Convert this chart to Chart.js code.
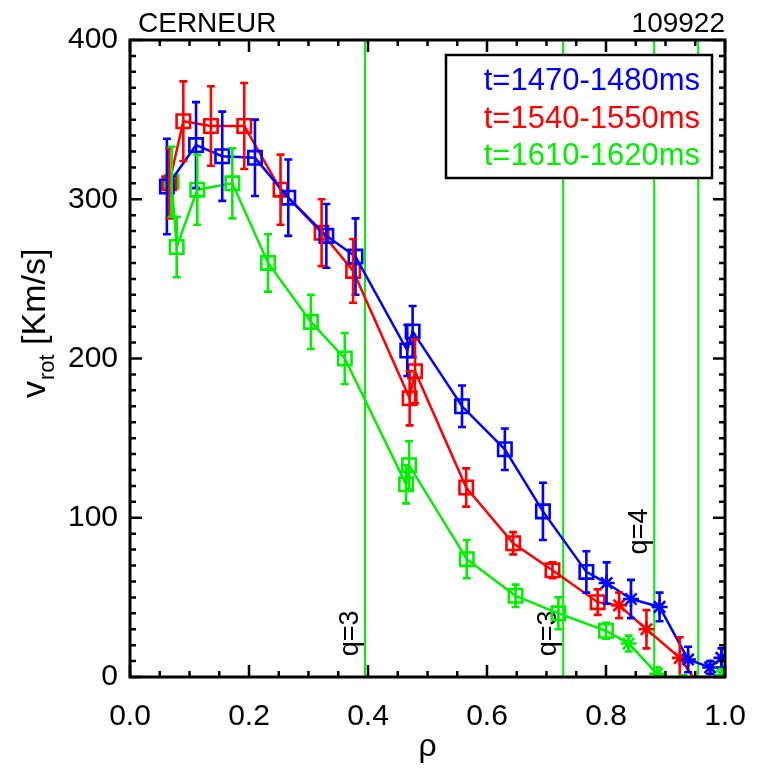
<!DOCTYPE html>
<html>
<head>
<meta charset="utf-8">
<script src="https://cdn.jsdelivr.net/npm/chart.js@4/dist/chart.umd.min.js"></script>
<style>
html,body{margin:0;padding:0;background:#fff;}
canvas{display:block;}
</style>
</head>
<body>
<canvas id="c" width="758" height="770"></canvas>
<script>
// ---- data ----
const seriesLabels = ['t=1470-1480ms', 't=1540-1550ms', 't=1610-1620ms'];
const seriesColors = ['#0000ff', '#ff0000', '#00f000'];

const blueRho = [0.062, 0.111, 0.155, 0.21, 0.266, 0.33, 0.379, 0.466, 0.475, 0.558, 0.63, 0.694, 0.767, 0.801, 0.842, 0.89, 0.938, 0.975, 0.994];
const blueV   = [308, 334, 327, 326, 301, 277, 264, 205, 217, 170, 143, 104, 66, 59, 49, 44, 11, 6, 12];
const blueErr = [30, 27, 28, 24, 24, 20, 24, 16, 16, 13, 13, 18, 13, 13, 12, 9, 8, 4, 6];
const blueStar = [0,0,0,0,0,0,0,0,0,0,0,0,0,1,1,1,1,1,1];

const redRho = [0.066, 0.0896, 0.136, 0.192, 0.253, 0.322, 0.375, 0.47, 0.479, 0.565, 0.644, 0.71, 0.786, 0.822, 0.868, 0.924, 0.965];
const redV   = [310, 349, 346, 346, 306, 279, 255, 175, 192, 119, 84, 67, 47, 45, 30, 12, -10];
const redErr = [22, 25, 25, 27, 22, 21, 20, 17, 20, 12, 7, 5, 8, 8, 12, 13, 10];
const redStar = [0,0,0,0,0,0,0,0,0,0,0,0,0,1,1,1,1];

const greenRho = [0.07, 0.0785, 0.113, 0.172, 0.232, 0.304, 0.361, 0.464, 0.469, 0.566, 0.648, 0.72, 0.80, 0.838, 0.886, 0.93, 0.995];
const greenV   = [311, 270, 306, 310, 260, 223, 200, 121, 133, 74, 51, 40, 29, 21, 2, -4, 1];
const greenErr = [22, 19, 22, 22, 18, 17, 16, 12, 15, 12, 7, 10, 5, 5, 4, 5, 4];
const greenStar = [0,0,0,0,0,0,0,0,0,0,0,0,0,1,1,1,1];

const qLinesRho = [0.395, 0.728, 0.881, 0.955];
const qLabels = [{rho:0.395, v:13, text:'q=3'}, {rho:0.728, v:13, text:'q=3'}, {rho:0.881, v:77, text:'q=4'}];

const xTicks = [0.0, 0.2, 0.4, 0.6, 0.8, 1.0];
const yTicks = [0, 100, 200, 300, 400];

const FONT = '"Liberation Sans", Arial, Helvetica, sans-serif';

function mkSet(rho, v, err, star, i){
  return {
    label: seriesLabels[i],
    data: rho.map((r,k)=>({x:r, y:v[k], e:err[k]})),
    borderColor: seriesColors[i],
    backgroundColor: 'rgba(0,0,0,0)',
    borderWidth: 2.5,
    pointStyle: star.map(s=> s ? 'star' : 'rect'),
    pointRadius: star.map(s=> s ? 8 : 9.5),
    pointBorderWidth: 2.6,
    pointBorderColor: seriesColors[i],
    pointBackgroundColor: 'rgba(0,0,0,0)',
    tension: 0,
    showLine: true
  };
}

const errPlugin = {
  id:'errbars',
  afterDatasetsDraw(chart){
    const ctx = chart.ctx, xs = chart.scales.x, ys = chart.scales.y, a = chart.chartArea;
    ctx.save();
    ctx.beginPath(); ctx.rect(a.left, a.top, a.right-a.left, a.bottom-a.top); ctx.clip();
    chart.data.datasets.forEach(ds=>{
      ctx.strokeStyle = ds.borderColor; ctx.lineWidth = 2.6;
      ds.data.forEach(p=>{
        const px = xs.getPixelForValue(p.x);
        const t = ys.getPixelForValue(p.y + p.e), b = ys.getPixelForValue(p.y - p.e);
        ctx.beginPath();
        ctx.moveTo(px, t); ctx.lineTo(px, b);
        ctx.moveTo(px-4, t); ctx.lineTo(px+4, t);
        ctx.moveTo(px-4, b); ctx.lineTo(px+4, b);
        ctx.stroke();
      });
    });
    ctx.restore();
  }
};

const qPlugin = {
  id:'qlines',
  beforeDatasetsDraw(chart){
    const ctx = chart.ctx, xs = chart.scales.x, ys = chart.scales.y, a = chart.chartArea;
    ctx.save();
    ctx.strokeStyle = '#00f000'; ctx.lineWidth = 2;
    qLinesRho.forEach(r=>{
      const px = xs.getPixelForValue(r);
      ctx.beginPath(); ctx.moveTo(px, a.top); ctx.lineTo(px, a.bottom); ctx.stroke();
    });
    ctx.fillStyle = '#000';
    ctx.font = '27px ' + FONT;
    ctx.textAlign = 'left'; ctx.textBaseline = 'alphabetic';
    qLabels.forEach(q=>{
      const px = xs.getPixelForValue(q.rho) - 7;
      const py = ys.getPixelForValue(q.v);
      ctx.save(); ctx.translate(px, py); ctx.rotate(-Math.PI/2);
      ctx.fillText(q.text, 0, 0);
      ctx.restore();
    });
    ctx.restore();
  }
};

const framePlugin = {
  id:'frame',
  afterDraw(chart){
    const ctx = chart.ctx, xs = chart.scales.x, ys = chart.scales.y, a = chart.chartArea;
    ctx.save();
    ctx.strokeStyle = '#000'; ctx.lineWidth = 2.5;
    for (let k=0; k<=20; k++){
      const v = k*0.05, px = xs.getPixelForValue(v);
      const L = (k%4===0) ? 12 : 6;
      ctx.beginPath();
      ctx.moveTo(px, a.bottom); ctx.lineTo(px, a.bottom - L);
      ctx.moveTo(px, a.top); ctx.lineTo(px, a.top + L);
      ctx.stroke();
    }
    for (let k=0; k<=40; k++){
      const v = k*10, py = ys.getPixelForValue(v);
      const L = (k%10===0) ? 12 : 6;
      ctx.beginPath();
      ctx.moveTo(a.left, py); ctx.lineTo(a.left + L, py);
      ctx.moveTo(a.right, py); ctx.lineTo(a.right - L, py);
      ctx.stroke();
    }
    ctx.lineWidth = 3;
    ctx.strokeRect(a.left, a.top, a.right-a.left, a.bottom-a.top);

    // header texts
    ctx.fillStyle = '#000';
    ctx.font = '28px ' + FONT;
    ctx.textBaseline = 'alphabetic';
    ctx.textAlign = 'left'; ctx.fillText('CERNEUR', a.left + 8, 32);
    ctx.textAlign = 'right'; ctx.fillText('109922', a.right, 32);

    // axis titles
    ctx.font = '32px ' + FONT;
    ctx.textAlign = 'center';
    ctx.fillText('\u03c1', (a.left+a.right)/2, 756);
    ctx.save();
    ctx.translate(45, 398); ctx.rotate(-Math.PI/2);
    ctx.textAlign = 'left';
    ctx.font = '34px ' + FONT;
    ctx.fillText('v', 0, 0);
    let w = ctx.measureText('v').width;
    ctx.font = '22px ' + FONT;
    ctx.fillText('rot', w + 1, 9);
    w += 1 + ctx.measureText('rot').width;
    ctx.font = '34px ' + FONT;
    ctx.fillText(' [Km/s]', w, 0);
    ctx.restore();

    // legend
    const lx = 446, ly = 55, lw = 266, lh = 123;
    ctx.fillStyle = '#fff'; ctx.fillRect(lx, ly, lw, lh);
    ctx.lineWidth = 2.5; ctx.strokeStyle = '#000'; ctx.strokeRect(lx, ly, lw, lh);
    ctx.font = '31px ' + FONT; ctx.textAlign = 'right';
    seriesLabels.forEach((s,i)=>{
      ctx.fillStyle = seriesColors[i];
      ctx.fillText(s, 700, 90 + i*37.5);
    });
    ctx.restore();
  }
};

new Chart(document.getElementById('c'), {
  type:'scatter',
  data:{ datasets:[
    mkSet(blueRho, blueV, blueErr, blueStar, 0),
    mkSet(redRho, redV, redErr, redStar, 1),
    mkSet(greenRho, greenV, greenErr, greenStar, 2)
  ]},
  options:{
    responsive:false, animation:false,
    devicePixelRatio:1,
    layout:{ padding:{ top:40, right:33, left:0, bottom:0 } },
    plugins:{ legend:{display:false}, tooltip:{enabled:false}, title:{display:false} },
    scales:{
      x:{ type:'linear', min:0, max:1,
          afterFit(s){ s.height = 93; s.paddingLeft = 0; s.paddingRight = 0; },
          afterBuildTicks(s){ s.ticks = xTicks.map(v=>({value:v})); },
          grid:{display:false, drawTicks:false}, border:{display:false},
          ticks:{ color:'#000', font:{family:FONT, size:30}, padding:22, maxRotation:0,
                  callback:v=>Number(v).toFixed(1) } },
      y:{ type:'linear', min:0, max:400,
          afterFit(s){ s.width = 130; s.paddingTop = 0; s.paddingBottom = 0; },
          afterBuildTicks(s){ s.ticks = yTicks.map(v=>({value:v})); },
          grid:{display:false, drawTicks:false}, border:{display:false},
          ticks:{ color:'#000', font:{family:FONT, size:30}, padding:12,
                  callback:v=>String(v) } }
    }
  },
  plugins:[qPlugin, errPlugin, framePlugin]
});
</script>
</body>
</html>
